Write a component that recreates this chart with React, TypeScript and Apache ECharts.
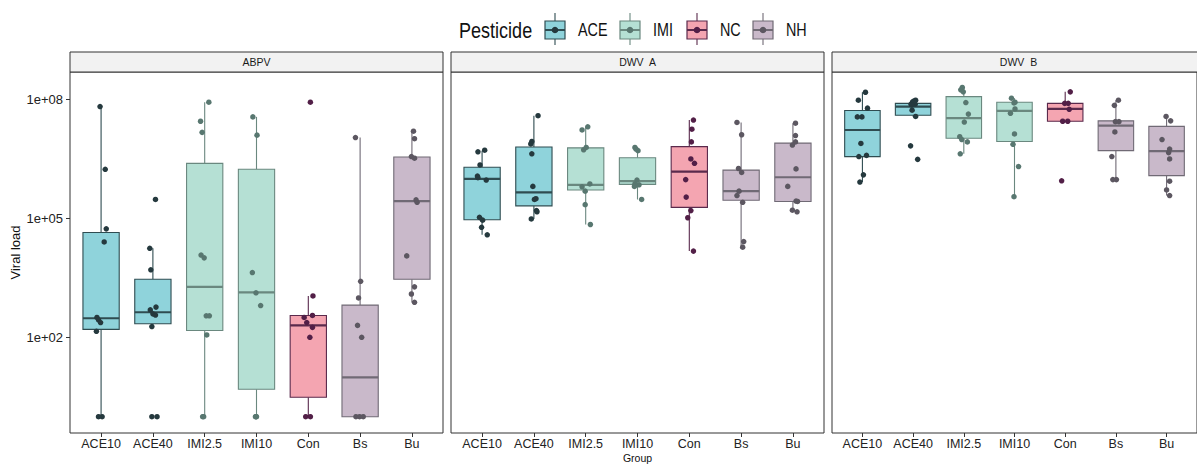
import React, { useEffect, useRef } from "react";
import * as echarts from "echarts";

// Treatment groups along each facet's x axis, and the pesticide each belongs to
const categories = ["ACE10", "ACE40", "IMI2.5", "IMI10", "Con", "Bs", "Bu"];
const pesticideOf = ["ACE", "ACE", "IMI", "IMI", "NC", "NH", "NH"];
const pesticides = ["ACE", "IMI", "NC", "NH"];
const viruses = ["ABPV", "DWV  A", "DWV  B"];

// y tick positions (log10 of viral load) and their labels
const yTickExponents = [2, 5, 8];
const yTickLabels = ["1e+02", "1e+05", "1e+08"];

// Box statistics per group, log10 scale: [lower whisker, Q1, median, Q3, upper whisker]
const abpvBoxes = [
  [0, 2.2, 2.48, 4.64, 7.81],
  [2.27, 2.34, 2.63, 3.46, 4.24],
  [0, 2.17, 3.27, 6.38, 7.92],
  [0, 0.69, 3.13, 6.23, 7.55],
  [0, 0.49, 2.3, 2.55, 3.04],
  [0, 0, 0.99, 2.81, 7.03],
  [2.88, 3.46, 5.43, 6.54, 7.19],
];
const dwvABoxes = [
  [4.58, 4.96, 5.99, 6.28, 6.69],
  [4.98, 5.31, 5.65, 6.79, 7.58],
  [4.84, 5.71, 5.84, 6.77, 7.3],
  [5.47, 5.85, 5.93, 6.52, 6.79],
  [4.17, 5.27, 6.17, 6.8, 7.47],
  [4.27, 5.45, 5.68, 6.21, 7.41],
  [5.16, 5.42, 6.03, 6.89, 7.39],
];
const dwvBBoxes = [
  [5.91, 6.55, 7.22, 7.71, 8.17],
  [7.56, 7.59, 7.81, 7.89, 7.97],
  [6.62, 7.01, 7.52, 8.06, 8.29],
  [5.54, 6.93, 7.7, 7.92, 8.02],
  [7.44, 7.44, 7.75, 7.89, 8.18],
  [5.96, 6.7, 7.33, 7.45, 7.97],
  [5.57, 6.07, 6.69, 7.31, 7.56],
];

// Individual samples, log10 viral load per group
const abpvPoints = [
  [7.81, 6.23, 4.73, 4.4, 2.5, 2.44, 2.37, 2.15, 0, 0],
  [5.47, 4.24, 3.7, 2.69, 2.76, 2.59, 2.56, 2.27, 0, 0],
  [7.92, 7.44, 7.16, 4.07, 4.0, 2.54, 2.54, 2.06, 0, 0],
  [7.55, 7.09, 3.63, 3.12, 2.8, 0, 0, 0],
  [7.92, 3.04, 2.5, 2.55, 2.37, 2.25, 2.0, 0, 0],
  [7.03, 3.41, 2.99, 2.3, 2.0, 0, 0, 0],
  [7.19, 7.0, 6.55, 6.51, 5.46, 5.4, 4.05, 3.27, 3.09, 2.88],
];
const dwvAPoints = [
  [6.67, 6.71, 6.34, 6.06, 6.02, 5.96, 5.02, 4.95, 4.77, 4.58],
  [7.58, 6.93, 6.87, 6.62, 5.8, 5.49, 5.47, 5.16, 4.98, 5.19],
  [7.22, 7.3, 6.72, 6.78, 5.86, 5.79, 5.68, 5.34, 4.84],
  [6.78, 6.7, 6.74, 5.96, 5.86, 5.84, 5.8, 5.47],
  [7.47, 7.24, 6.92, 6.49, 6.38, 5.97, 5.53, 5.19, 5.01, 4.17],
  [7.41, 7.1, 6.25, 6.15, 5.68, 5.57, 5.4, 4.41, 4.27],
  [7.39, 7.08, 6.92, 6.84, 6.24, 5.8, 5.43, 5.42, 5.2, 5.16],
];
const dwvBPoints = [
  [8.17, 7.97, 7.77, 7.55, 7.55, 6.88, 6.55, 6.58, 6.09, 5.91],
  [7.97, 7.93, 7.87, 7.87, 7.72, 7.56, 6.82, 6.48, 7.95, 7.85],
  [8.29, 8.23, 8.18, 7.91, 7.62, 7.42, 7.05, 6.98, 6.92, 6.62],
  [8.02, 7.92, 7.9, 7.75, 7.64, 7.12, 6.86, 6.3, 5.54],
  [8.18, 7.89, 7.89, 7.74, 7.44, 7.44, 5.94],
  [7.97, 7.84, 7.43, 7.43, 7.17, 6.55, 5.97, 5.97],
  [7.56, 7.45, 6.98, 6.74, 6.65, 6.49, 5.93, 5.71, 5.57],
];

// Horizontal jitter of each sample, in category units
const abpvJitter = [
  [-0.02, 0.08, 0.1, 0.06, -0.08, -0.05, -0.01, -0.09, -0.05, 0.02],
  [0.05, -0.06, -0.04, -0.05, 0.06, 0, 0.05, -0.02, -0.02, 0.08],
  [0.08, -0.08, -0.05, -0.07, -0.01, 0.03, 0.09, 0.04, -0.04, -0.02],
  [-0.07, 0.01, -0.08, -0.01, 0.08, -0.01, 0, -0.02],
  [0.04, 0.09, -0.08, 0.08, -0.03, 0.08, 0.03, -0.05, 0.04],
  [-0.09, 0.01, -0.03, -0.05, 0.03, -0.08, -0.01, 0.06],
  [0.03, 0.05, -0.01, 0.05, 0.08, 0.1, -0.1, 0.05, -0.01, 0.05],
];
const dwvAJitter = [
  [-0.08, 0.05, -0.04, -0.09, -0.08, 0.08, -0.05, 0.01, -0.01, 0.1],
  [0.08, -0.04, -0.06, -0.04, -0.02, 0.04, 0.01, 0.06, -0.05, 0.05],
  [-0.07, 0.04, -0.04, 0.01, 0.08, -0.07, -0.01, -0.01, 0.09],
  [-0.05, 0.01, -0.03, -0.01, -0.05, 0.03, -0.06, 0.08],
  [0.08, 0.05, 0.04, 0.03, 0.1, -0.07, -0.06, 0.03, -0.03, 0.08],
  [-0.08, 0.01, -0.05, 0.01, -0.04, -0.08, 0.03, 0.05, 0.03],
  [0.05, 0.05, 0.05, -0.01, 0.06, -0.1, 0.06, 0.09, -0.01, 0.08],
];
const dwvBJitter = [
  [0.06, -0.08, 0.1, -0.1, -0.01, -0.03, -0.07, 0.08, 0.02, -0.05],
  [0.05, -0.01, -0.04, 0.04, -0.02, 0.05, -0.05, 0.09, 0.02, -0.03],
  [-0.03, -0.06, -0.01, 0.04, 0.09, 0.01, -0.08, -0.04, 0.07, -0.07],
  [-0.06, 0.01, -0.01, 0.01, -0.08, 0, -0.03, 0.08, -0.01],
  [0.1, -0.01, 0.06, 0.08, -0.05, 0.05, -0.07],
  [0.05, -0.03, -0.01, 0.06, -0.02, -0.08, -0.06, 0.01],
  [-0.01, 0.08, -0.09, 0.06, 0.04, 0.06, 0.06, 0, 0.06],
];

const boxesByVirus = [abpvBoxes, dwvABoxes, dwvBBoxes];
const pointsByVirus = [abpvPoints, dwvAPoints, dwvBPoints];
const jitterByVirus = [abpvJitter, dwvAJitter, dwvBJitter];

const palette: Record<string, { fill: string; line: string; dot: string }> = {
  ACE: { fill: "#8fd3db", line: "#2f4c51", dot: "#25393e" },
  IMI: { fill: "#b5e0d4", line: "#6a887f", dot: "#587770" },
  NC: { fill: "#f4a5b1", line: "#5a2a4c", dot: "#521f47" },
  NH: { fill: "#c9b9ca", line: "#706a75", dot: "#5c5761" },
};

const FONT = "'Liberation Sans', Arial, sans-serif";
// legend text is set in a condensed face; emulate it by squeezing the regular one
const CONDENSE = 0.82;

// Facet geometry
const panelLefts = [70, 451, 832];
const panelWidth = 373;
const panelTop = 72;
const panelHeight = 361;
const stripHeight = 20;
const yMin = -0.41;
const yMax = 8.68;
const boxHalf = 0.35;

function buildOption() {
  const grid = panelLefts.map((left) => ({
    left,
    top: panelTop,
    width: panelWidth,
    height: panelHeight,
    show: true,
    borderColor: "#333333",
    borderWidth: 1,
    backgroundColor: "transparent",
    containLabel: false,
  }));

  const catIdx = categories.map((_, i) => i);

  const xAxis = panelLefts.map((_, p) => ({
    type: "value",
    gridIndex: p,
    min: -0.6,
    max: 6.6,
    position: "bottom",
    splitLine: { show: false },
    axisLine: { show: false, onZero: false },
    axisTick: {
      show: true,
      customValues: catIdx,
      length: 4,
      lineStyle: { color: "#333333", width: 1 },
    },
    axisLabel: {
      show: true,
      customValues: catIdx,
      formatter: (v: number) => categories[Math.round(v)] ?? "",
      color: "#222222",
      fontSize: 12.5,
      fontFamily: FONT,
      margin: 4,
    },
  }));

  const yAxis = panelLefts.map((_, p) => ({
    type: "value",
    gridIndex: p,
    min: yMin,
    max: yMax,
    position: "left",
    splitLine: { show: false },
    axisLine: { show: false, onZero: false },
    axisTick: {
      show: p === 0,
      customValues: yTickExponents,
      length: 4,
      lineStyle: { color: "#333333", width: 1 },
    },
    axisLabel: {
      show: p === 0,
      customValues: yTickExponents,
      formatter: (v: number) => yTickLabels[yTickExponents.indexOf(Math.round(v))] ?? "",
      color: "#222222",
      fontSize: 13,
      fontFamily: FONT,
      margin: 7,
    },
  }));

  const series: any[] = [];
  viruses.forEach((_, p) => {
    series.push({
      type: "custom",
      xAxisIndex: p,
      yAxisIndex: p,
      z: 2,
      clip: false,
      data: boxesByVirus[p].map((b, i) => [i, ...b]),
      renderItem: (_params: any, api: any) => {
        const x = api.value(0);
        const low = api.value(1);
        const q1 = api.value(2);
        const med = api.value(3);
        const q3 = api.value(4);
        const high = api.value(5);
        const c = palette[pesticideOf[x]];
        const pHigh = api.coord([x, high]);
        const pQ3 = api.coord([x, q3]);
        const pQ1 = api.coord([x, q1]);
        const pLow = api.coord([x, low]);
        const tl = api.coord([x - boxHalf, q3]);
        const br = api.coord([x + boxHalf, q1]);
        const mL = api.coord([x - boxHalf, med]);
        const mR = api.coord([x + boxHalf, med]);
        return {
          type: "group",
          children: [
            {
              type: "line",
              shape: { x1: pHigh[0], y1: pHigh[1], x2: pQ3[0], y2: pQ3[1] },
              style: { stroke: c.line, lineWidth: 1.1 },
            },
            {
              type: "line",
              shape: { x1: pQ1[0], y1: pQ1[1], x2: pLow[0], y2: pLow[1] },
              style: { stroke: c.line, lineWidth: 1.1 },
            },
            {
              type: "rect",
              shape: { x: tl[0], y: tl[1], width: br[0] - tl[0], height: br[1] - tl[1] },
              style: { fill: c.fill, stroke: c.line, lineWidth: 1.1 },
            },
            {
              type: "line",
              shape: { x1: mL[0], y1: mL[1], x2: mR[0], y2: mR[1] },
              style: { stroke: c.line, lineWidth: 2.2 },
            },
          ],
        };
      },
    });

    const pts: any[] = [];
    pointsByVirus[p].forEach((vals, ci) => {
      const c = palette[pesticideOf[ci]];
      vals.forEach((v, j) => {
        pts.push({
          value: [ci + jitterByVirus[p][ci][j], v],
          itemStyle: { color: c.dot },
        });
      });
    });
    series.push({
      type: "scatter",
      xAxisIndex: p,
      yAxisIndex: p,
      z: 3,
      symbol: "circle",
      symbolSize: 5.5,
      data: pts,
      itemStyle: { opacity: 1, borderWidth: 0 },
    });
  });

  const graphic: any[] = [];

  // facet strips
  viruses.forEach((name, p) => {
    graphic.push({
      type: "rect",
      shape: { x: panelLefts[p], y: panelTop - stripHeight, width: panelWidth, height: stripHeight },
      style: { fill: "#f2f2f2", stroke: "#333333", lineWidth: 1 },
      z: 10,
    });
    graphic.push({
      type: "text",
      x: panelLefts[p] + panelWidth / 2,
      y: panelTop - stripHeight / 2,
      style: {
        text: name,
        align: "center",
        verticalAlign: "middle",
        fontSize: 10.5,
        fontFamily: FONT,
        fill: "#1a1a1a",
      },
      z: 11,
    });
  });

  // axis titles
  graphic.push({
    type: "text",
    x: 15,
    y: panelTop + panelHeight / 2,
    rotation: Math.PI / 2,
    style: {
      text: "Viral load",
      align: "center",
      verticalAlign: "middle",
      fontSize: 13,
      fontFamily: FONT,
      fill: "#111111",
    },
  });
  graphic.push({
    type: "text",
    x: panelLefts[1] + panelWidth / 2,
    y: 452,
    style: {
      text: "Group",
      align: "center",
      verticalAlign: "top",
      fontSize: 10.5,
      fontFamily: FONT,
      fill: "#111111",
    },
  });

  // legend
  const legendY = 30;
  graphic.push({
    type: "text",
    x: 459,
    y: legendY,
    scaleX: CONDENSE,
    style: {
      text: "Pesticide",
      align: "left",
      verticalAlign: "middle",
      fontSize: 22,
      fontFamily: FONT,
      fill: "#111111",
    },
  });
  const keyLefts = [545, 620, 687, 753];
  pesticides.forEach((name, k) => {
    const c = palette[name];
    const bx = keyLefts[k];
    graphic.push({
      type: "line",
      shape: { x1: bx + 10, y1: legendY - 17, x2: bx + 10, y2: legendY + 15 },
      style: { stroke: c.line, lineWidth: 1.1 },
    });
    graphic.push({
      type: "rect",
      shape: { x: bx, y: legendY - 9, width: 20, height: 18 },
      style: { fill: c.fill, stroke: c.line, lineWidth: 1.2 },
    });
    graphic.push({
      type: "line",
      shape: { x1: bx, y1: legendY, x2: bx + 20, y2: legendY },
      style: { stroke: c.line, lineWidth: 2 },
    });
    graphic.push({
      type: "circle",
      shape: { cx: bx + 10, cy: legendY, r: 3.3 },
      style: { fill: c.dot },
    });
    graphic.push({
      type: "text",
      x: bx + 33,
      y: legendY,
      scaleX: CONDENSE,
      style: {
        text: name,
        align: "left",
        verticalAlign: "middle",
        fontSize: 17.5,
        fontFamily: FONT,
        fill: "#111111",
      },
    });
  });

  return {
    animation: false,
    backgroundColor: "#ffffff",
    grid,
    xAxis,
    yAxis,
    series,
    graphic,
  };
}

export default function App() {
  const ref = useRef<HTMLDivElement>(null);
  useEffect(() => {
    if (!ref.current) return;
    const chart = echarts.init(ref.current, undefined, { renderer: "svg" });
    chart.setOption(buildOption() as any);
    return () => chart.dispose();
  }, []);
  return (
    <div
      ref={ref}
      style={{ position: "fixed", left: 0, top: 0, width: 1197, height: 464, background: "#fff" }}
    />
  );
}
